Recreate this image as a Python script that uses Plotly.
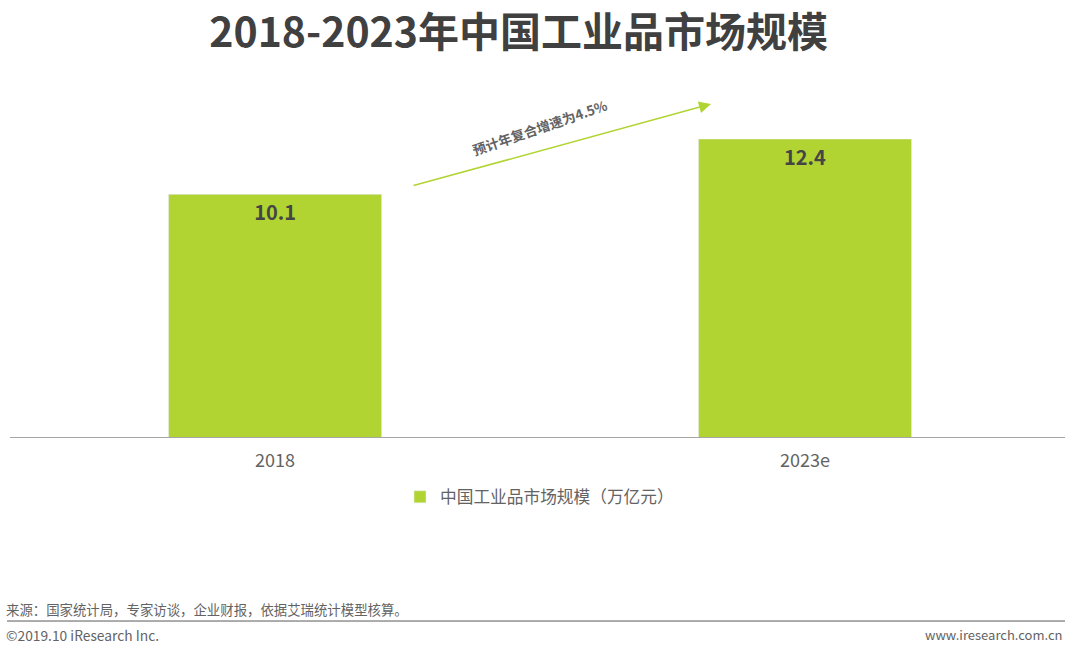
import plotly.graph_objects as go

FONT = "Noto Sans CJK SC"
GREEN = "#b1d433"
GREY = "#636363"

# chart data
years = ["2018", "2023e"]
market_size = [10.1, 12.4]
value_labels = ["<b>10.1</b>", "<b>12.4</b>"]
series_name = "中国工业品市场规模（万亿元）"

fig = go.Figure()
fig.add_trace(go.Bar(
    x=years,
    y=market_size,
    name=series_name,
    marker_color=GREEN,
    width=0.402,
    text=value_labels,
    textposition="inside",
    insidetextanchor="end",
    textangle=0,
    textfont=dict(family=FONT, size=20, color="#454545"),
    showlegend=True,
))

fig.update_layout(
    width=1065,
    height=652,
    margin=dict(l=0, r=0, t=0, b=0, autoexpand=False),
    plot_bgcolor="white",
    paper_bgcolor="white",
    font=dict(family=FONT, color=GREY),
    title=dict(
        text="<b>2018-2023年中国工业品市场规模</b>",
        x=0.487, xanchor="center",
        y=0.95, yanchor="middle",
        font=dict(family=FONT, size=41, color="#404040"),
    ),
    xaxis=dict(
        domain=[0.0095, 1],
        showline=True,
        linecolor="#a6a6a6",
        linewidth=1,
        ticks="",
        ticklabelstandoff=7,
        tickfont=dict(size=18, color=GREY),
        range=[-0.5, 1.4906],
    ),
    yaxis=dict(
        domain=[0.329, 0.7868],
        visible=False,
        range=[0, 12.4],
    ),
    legend=dict(
        x=0.3756, y=0.2377, xanchor="left", yanchor="middle",
        font=dict(size=16.7, color=GREY),
        itemwidth=30,
    ),
    shapes=[
        dict(type="line", xref="paper", yref="paper",
             x0=0.0066, x1=1, y0=0.0475, y1=0.0475,
             line=dict(color="#595959", width=1)),
    ],
    annotations=[
        # growth arrow, tail offset in pixels from the head
        dict(xref="paper", yref="paper", x=0.6676, y=0.8405,
             ax=-299, ay=82, text="", showarrow=True, arrowhead=2,
             arrowsize=1.6, arrowwidth=1.5, arrowcolor=GREEN),
        dict(xref="paper", yref="paper", x=0.507, y=0.805,
             xanchor="center", yanchor="middle",
             text="<b>预计年复合增速为4.5%</b>", showarrow=False, textangle=-19,
             font=dict(size=13.5, color=GREY)),
        dict(xref="paper", yref="paper", x=0.0038, y=0.0655,
             xanchor="left", yanchor="middle", showarrow=False,
             text="来源：国家统计局，专家访谈，企业财报，依据艾瑞统计模型核算。",
             font=dict(size=13.4, color=GREY)),
        dict(xref="paper", yref="paper", x=0.004, y=0.0265,
             xanchor="left", yanchor="middle", showarrow=False,
             text="©2019.10 iResearch Inc.",
             font=dict(size=13.8, color=GREY)),
        dict(xref="paper", yref="paper", x=1.0, y=0.0265,
             xanchor="right", yanchor="middle", showarrow=False,
             text="www.iresearch.com.cn",
             font=dict(size=13, color=GREY)),
    ],
)

# page margin would push the figure 8px right and down
fig.write_html(
    "out.html",
    config={"displayModeBar": False},
    post_script="document.body.style.margin = '0';",
)
